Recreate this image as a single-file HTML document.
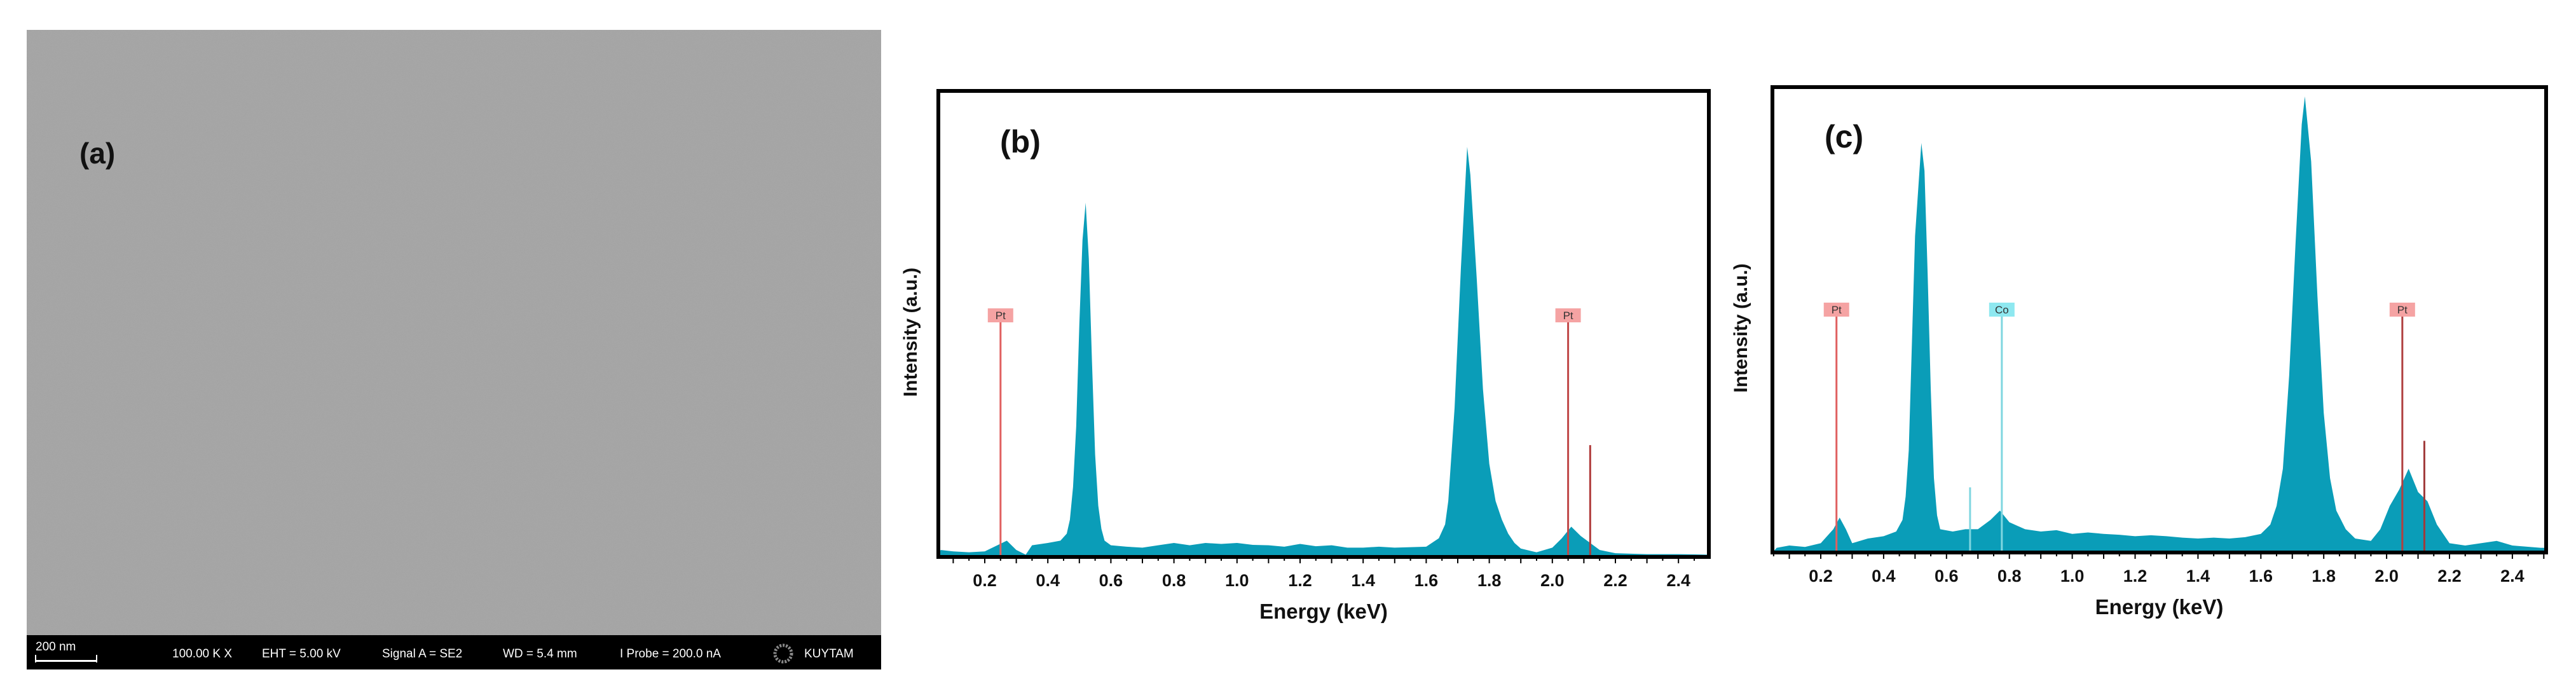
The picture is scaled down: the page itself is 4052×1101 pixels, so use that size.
<!DOCTYPE html>
<html><head><meta charset="utf-8"><style>
html,body{margin:0;padding:0;background:#fff;}
svg{display:block;font-family:"Liberation Sans",sans-serif;}
</style></head><body>
<svg id="root" width="4052" height="1101" viewBox="0 0 4052 1101" xmlns="http://www.w3.org/2000/svg">
<defs>
<filter id="noise" x="0" y="0" width="100%" height="100%">
<feTurbulence type="fractalNoise" baseFrequency="0.9" numOctaves="1" seed="3"/>
<feColorMatrix type="matrix" values="0 0 0 0 0.62 0 0 0 0 0.62 0 0 0 0 0.62 0 0 0 0.25 0"/>
</filter>
</defs>
<g>
<rect x="42" y="47" width="1344" height="1006" fill="#a2a2a2"/>
<rect x="42" y="47" width="1344" height="952" filter="url(#noise)" opacity="0.6"/>
<text x="125" y="257" font-size="46" font-weight="bold" fill="#111">(a)</text>
<rect x="42" y="999" width="1344" height="54" fill="#000"/>
<g fill="#fff" font-size="19">
<text x="56" y="1023">200 nm</text>
<rect x="55" y="1038" width="98" height="3"/><rect x="55" y="1030" width="2" height="12"/><rect x="151" y="1030" width="2" height="12"/>
<text x="271" y="1034">100.00 K X</text>
<text x="412" y="1034">EHT =  5.00 kV</text>
<text x="601" y="1034">Signal A = SE2</text>
<text x="791" y="1034">WD =  5.4 mm</text>
<text x="975" y="1034">I Probe =  200.0 nA</text>
<circle cx="1232" cy="1028" r="13" fill="none" stroke="#888" stroke-width="5" stroke-dasharray="3 2"/>
<text x="1265" y="1034">KUYTAM</text>
</g>
</g>
<g id="chartB"></g>
<g id="chartC"></g>
</svg>
<script>
const energiesB = [0.06,0.1,0.15,0.2,0.24,0.27,0.3,0.33,0.35,0.4,0.44,0.46,0.47,0.48,0.49,0.5,0.51,0.52,0.53,0.54,0.55,0.56,0.57,0.58,0.6,0.65,0.7,0.75,0.8,0.85,0.9,0.95,1.0,1.05,1.1,1.15,1.2,1.25,1.3,1.35,1.4,1.45,1.5,1.55,1.6,1.64,1.66,1.67,1.69,1.71,1.73,1.74,1.76,1.78,1.8,1.82,1.84,1.86,1.88,1.9,1.95,2.0,2.03,2.06,2.09,2.12,2.15,2.2,2.3,2.4,2.49];
const countsB = [1.5,1.2,1,1.2,2.5,3.5,1.5,0.5,2.5,3,3.5,5,8,15,28,50,68,76,64,42,22,11,6,3.5,2.5,2.2,2,2.5,3,2.5,3,2.8,3,2.6,2.5,2.2,2.8,2.3,2.5,2,2,2.2,2,2.1,2.2,4,7,12,32,62,88,82,60,36,20,12,8,5,3,1.8,1,2,4,6.5,4.5,3,1.5,0.8,0.6,0.6,0.5];
const energiesC = [0.06,0.1,0.15,0.2,0.24,0.26,0.28,0.3,0.35,0.4,0.44,0.46,0.47,0.48,0.49,0.5,0.52,0.53,0.54,0.55,0.56,0.57,0.58,0.62,0.66,0.7,0.74,0.77,0.8,0.85,0.9,0.95,1.0,1.05,1.1,1.15,1.2,1.25,1.3,1.35,1.4,1.45,1.5,1.55,1.6,1.63,1.65,1.67,1.69,1.71,1.73,1.74,1.76,1.78,1.8,1.82,1.84,1.87,1.9,1.95,1.98,2.01,2.04,2.07,2.1,2.13,2.16,2.2,2.25,2.3,2.35,2.4,2.49];
const countsC = [1,1.5,1.2,2,5,7.5,5,2,3,3.5,4.5,7,12,22,45,68,88,82,60,35,16,8,5,4.5,5,5,7,9,6.5,5,4.5,4.8,4,4.3,4,3.8,3.5,3.7,3.5,3.2,3,3.2,3,3.3,4,6,10,18,38,66,92,98,84,55,30,16,9,5,3,2.5,5,10,13.5,18,13,11,6,2,1.5,2,2.5,1.5,1];
const tickLabels = ["0.2","0.4","0.6","0.8","1.0","1.2","1.4","1.6","1.8","2.0","2.2","2.4"];
const markersB = [{el:"Pt",e:0.25,c:"#e06060",box:"#f5a3a3"},{el:"Pt",e:2.05,c:"#c04848",box:"#f5a3a3"}];
const extraB = [{e:2.12,h:24,c:"#b03a3a"}];
const markersC = [{el:"Pt",e:0.25,c:"#e06060",box:"#f5a3a3"},{el:"Co",e:0.776,c:"#7fd6e0",box:"#8ee8f0"},{el:"Pt",e:2.05,c:"#b04040",box:"#f5a3a3"}];
const extraC = [{e:0.675,h:14,c:"#7fd6e0"},{e:2.12,h:24,c:"#a03a3a"}];

const NS="http://www.w3.org/2000/svg";
function mk(tag,attrs,parent){const e=document.createElementNS(NS,tag);for(const k in attrs)e.setAttribute(k,attrs[k]);parent.appendChild(e);return e;}

function drawChart(g,cfg,energies,counts,markers,extras){
  const x=e=>cfg.x02+(e-0.2)*cfg.per01*10;
  const y=v=>cfg.bottom-v/100*(cfg.bottom-cfg.top);
  const e0=(cfg.left-cfg.x02)/(cfg.per01*10)+0.2, e1=(cfg.right-cfg.x02)/(cfg.per01*10)+0.2;
  let pts=[[x(e0),cfg.bottom]];
  energies.forEach((e,i)=>pts.push([x(e),y(counts[i])]));
  pts.push([x(e1),y(counts[counts.length-1])],[x(e1),cfg.bottom]);
  const area=mk("polygon",{points:pts.map(p=>p.join(",")).join(" "),fill:"#0a9db8"},g);
  
  
  extras.forEach(m=>{
    const l=mk("line",{x1:x(m.e),x2:x(m.e),y1:cfg.bottom,y2:y(m.h),stroke:m.c,"stroke-width":3},g);
    
    
  });
  markers.forEach(m=>{
    const mg=mk("g",{},g);
    
    
    const xx=x(m.e);
    mk("line",{x1:xx,x2:xx,y1:cfg.markY+10,y2:cfg.bottom,stroke:m.c,"stroke-width":3},mg);
    mk("rect",{x:xx-20,y:cfg.markY-11,width:40,height:22,fill:m.box},mg);
    const t=mk("text",{x:xx,y:cfg.markY+6,"font-size":17,"text-anchor":"middle",fill:"#333"},mg);
    t.textContent=m.el;
  });
  const frame=mk("rect",{x:cfg.left,y:cfg.top,width:cfg.right-cfg.left,height:cfg.bottom-cfg.top,fill:"none",stroke:"#000","stroke-width":6},g);
  
  
  for(let k=Math.ceil(e0/0.05);k*0.05<=e1;k++){
    const xx=x(k*0.05);
    const tk=mk("line",{x1:xx,x2:xx,y1:cfg.bottom,y2:cfg.bottom+(k%2==0?10:6),stroke:"#000","stroke-width":2},g);
    
    
  }
  tickLabels.forEach(s=>{
    const t=mk("text",{x:x(parseFloat(s)),y:cfg.bottom+46,"font-size":27,"font-weight":"bold","text-anchor":"middle",fill:"#111"},g);
    
    
    t.textContent=s;
  });
  const xt=mk("text",{x:(cfg.left+cfg.right)/2,y:cfg.bottom+97,"font-size":33,"font-weight":"bold","text-anchor":"middle",fill:"#111"},g);
  
  
  xt.textContent="Energy (keV)";
  const yt=mk("text",{x:0,y:0,"font-size":30,"font-weight":"bold","text-anchor":"middle",fill:"#111",transform:`translate(${cfg.yTitleX},${(cfg.top+cfg.bottom)/2+13}) rotate(-90)`},g);
  
  
  yt.textContent="Intensity (a.u.)";
  const pl=mk("text",{x:cfg.labelX,y:cfg.labelY,"font-size":50,"font-weight":"bold",fill:"#111"},g);
  
  
  pl.textContent=cfg.label;
}
drawChart(document.getElementById("chartB"),{left:1476,right:2688,top:143,bottom:876,x02:1549,per01:49.6,markY:496,yTitleX:1442,labelX:1573,labelY:240,label:"(b)"},energiesB,countsB,markersB,extraB);
drawChart(document.getElementById("chartC"),{left:2788,right:4005,top:137,bottom:869,x02:2864,per01:49.45,markY:487,yTitleX:2748,labelX:2870,labelY:232,label:"(c)"},energiesC,countsC,markersC,extraC);
</script>
</body></html>
